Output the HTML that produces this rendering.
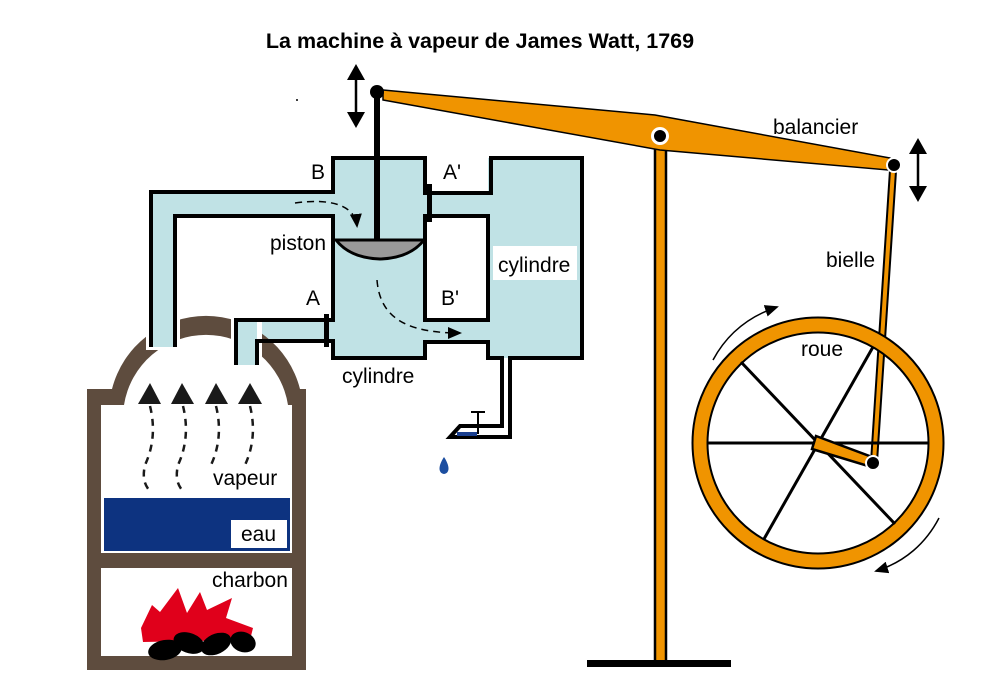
<!DOCTYPE html>
<html><head><meta charset="utf-8"><style>
html,body{margin:0;padding:0;background:#fff;}
svg{display:block;}
text{font-family:"Liberation Sans",Arial,sans-serif;font-size:21px;fill:#000;}
</style></head><body>
<svg width="984" height="694" viewBox="0 0 984 694" xmlns="http://www.w3.org/2000/svg">
<defs>
<marker id="ah" markerWidth="14" markerHeight="12" refX="12" refY="6" orient="auto" markerUnits="userSpaceOnUse"><path d="M0,0 L14,6 L0,12 Z" fill="#000"/></marker>
</defs>
<text x="480" y="48" text-anchor="middle" style="font-weight:bold;font-size:21.5px">La machine à vapeur de James Watt, 1769</text>
<circle cx="297" cy="100" r="1" fill="#000"/>

<!-- light blue fills -->
<g fill="#c0e2e5">
<rect x="333" y="158" width="92" height="200"/>
<rect x="151" y="192" width="182" height="24"/>
<rect x="151" y="192" width="24" height="155"/>
<rect x="236" y="321" width="97" height="20"/>
<rect x="236" y="321" width="21" height="44"/>
<rect x="425" y="193" width="66" height="23"/>
<rect x="425" y="320" width="66" height="22"/>
<rect x="488" y="158" width="94" height="200"/>
</g>
<rect x="493" y="246" width="84" height="34" fill="#fff"/>

<!-- boiler -->
<path d="M87,670 V389 H112 A97,97 0 0 1 300,389 H306 V670 Z" fill="#5e4c3e"/>
<path d="M101,656 V405 H124 A83,83 0 0 1 288,405 H292 V656 Z" fill="#fff"/>
<rect x="101" y="553" width="191" height="15" fill="#5e4c3e"/>
<rect x="146" y="300" width="34" height="50" fill="#fff"/>
<rect x="231" y="300" width="31" height="65" fill="#fff"/>
<rect x="236" y="321" width="21" height="44" fill="#c0e2e5"/>
<rect x="151" y="192" width="24" height="155" fill="#c0e2e5"/>

<!-- outlines -->
<g fill="none" stroke="#000" stroke-width="4">
<path d="M151,347 V192 H333 V158 H425 V193 H491 V158 H582 V358 H510 V437 H450 L460,426 H502 V358 H488 V342 H425 V358 H333 V341 H257 V365"/>
<path d="M175,347 V216 H333 V320 H236 V365"/>
<path d="M425,216 H488 V320 H425 Z"/>
</g>
<rect x="457" y="432" width="20" height="4" fill="#1a3f8f"/>
<path d="M471,412 H485 M478,412 V434" stroke="#000" stroke-width="2"/>
<path d="M444,457 C438,466 438,473 444,474 C450,473 450,466 444,457Z" fill="#1c4ea0"/>
<rect x="427" y="184" width="5" height="38" fill="#000"/>
<rect x="324" y="314" width="5" height="33" fill="#000"/>
<rect x="374" y="92" width="6" height="150" fill="#000"/>
<path d="M336,240 H424 Q410,258 380,259 Q350,258 336,240Z" fill="#999" stroke="#000" stroke-width="3"/>
<path d="M295,203 C330,198 355,205 357,226" fill="none" stroke="#000" stroke-width="1.5" stroke-dasharray="7,5" marker-end="url(#ah)"/>
<path d="M377,280 C380,320 410,333 460,333" fill="none" stroke="#000" stroke-width="1.5" stroke-dasharray="7,5" marker-end="url(#ah)"/>

<!-- steam arrows -->
<g fill="#1a1a1a">
<path d="M138,404 L150,383 L161,404Z"/><path d="M171,404 L182,383 L194,404Z"/>
<path d="M205,404 L216,383 L228,404Z"/><path d="M238,404 L250,383 L262,404Z"/>
</g>
<g fill="none" stroke="#1a1a1a" stroke-width="2.5" stroke-dasharray="7,6">
<path d="M150,406 C156,430 152,450 145,465 C142,478 145,485 149,490"/>
<path d="M183,406 C189,430 185,450 178,465 C175,478 178,485 182,490"/>
<path d="M216,406 C222,430 218,450 211,465"/>
<path d="M250,406 C256,430 252,450 245,465"/>
</g>
<rect x="104" y="498" width="186" height="53" fill="#0d3380"/>
<rect x="231" y="520" width="56" height="28" fill="#fff"/>
<path d="M141,628 L152,605 L160,612 L178,588 L187,613 L200,592 L207,610 L232,598 L226,618 L253,628 L250,640 L143,642Z" fill="#e0001b"/>
<g fill="#000">
<ellipse cx="165" cy="650" rx="17" ry="10" transform="rotate(-10 165 650)"/>
<ellipse cx="189" cy="643" rx="16" ry="10" transform="rotate(20 189 643)"/>
<ellipse cx="216" cy="644" rx="16" ry="10" transform="rotate(-25 216 644)"/>
<ellipse cx="243" cy="642" rx="13" ry="10" transform="rotate(20 243 642)"/>
</g>

<!-- beam post -->
<rect x="655" y="133" width="11" height="530" fill="#f09400" stroke="#000" stroke-width="2.5"/>
<rect x="587" y="660" width="144" height="7" fill="#000"/>
<path d="M383,90 L655,115 L890,158 L888,170 L660,150 L383,100Z" fill="#f09400" stroke="#000" stroke-width="1.5"/>
<circle cx="660" cy="136" r="7.5" fill="#000" stroke="#fff" stroke-width="3"/>
<circle cx="377" cy="92" r="7" fill="#000"/>
<path d="M890,170 L896,171 L877,462 L871,462Z" fill="#f09400" stroke="#000" stroke-width="2"/>
<circle cx="894" cy="165" r="7" fill="#000" stroke="#fff" stroke-width="2"/>
<!-- wheel -->
<circle cx="818" cy="443" r="118" fill="none" stroke="#000" stroke-width="17"/>
<circle cx="818" cy="443" r="118" fill="none" stroke="#f09400" stroke-width="13"/>
<g stroke="#000" stroke-width="3">
<line x1="708" y1="443" x2="928" y2="443"/>
<line x1="741" y1="362" x2="895" y2="524"/>
<line x1="764" y1="539" x2="873" y2="347"/>
</g>
<path d="M816,436 L872,457 L868,466 L812,449Z" fill="#f09400" stroke="#000" stroke-width="2.5"/>
<circle cx="873" cy="463" r="7" fill="#000" stroke="#fff" stroke-width="2"/>
<path d="M713,360 C728,332 750,316 777,307" fill="none" stroke="#000" stroke-width="1.5" marker-end="url(#ah)"/>
<path d="M939,518 C926,543 905,562 876,571" fill="none" stroke="#000" stroke-width="1.5" marker-end="url(#ah)"/>
<g stroke="#000" stroke-width="2.5"><line x1="356" y1="72" x2="356" y2="120"/><line x1="918" y1="146" x2="918" y2="192"/></g>
<g fill="#000">
<path d="M347,80 L356,64 L365,80Z"/><path d="M347,112 L356,128 L365,112Z"/>
<path d="M909,154 L918,138 L927,154Z"/><path d="M909,186 L918,202 L927,186Z"/>
</g>

<text x="773" y="134">balancier</text>
<text x="826" y="267">bielle</text>
<text x="801" y="356">roue</text>
<text x="342" y="383">cylindre</text>
<text x="498" y="272">cylindre</text>
<text x="270" y="250">piston</text>
<text x="311" y="179">B</text>
<text x="443" y="179">A'</text>
<text x="306" y="305">A</text>
<text x="441" y="305">B'</text>
<text x="213" y="485">vapeur</text>
<text x="241" y="541">eau</text>
<text x="212" y="587">charbon</text>
</svg>
</body></html>
